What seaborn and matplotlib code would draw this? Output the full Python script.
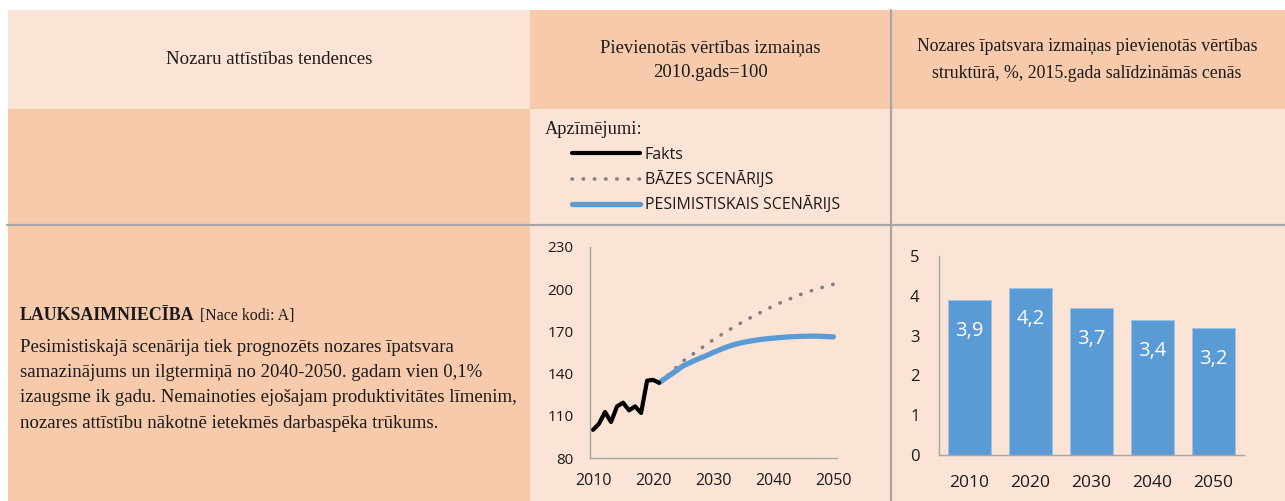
"""
Nozaru attīstības tendences - lauksaimniecība
Line chart of value added (2010=100) and bar chart of sector share
"""

import matplotlib
matplotlib.use('Agg')
import matplotlib.pyplot as plt
from matplotlib.patches import Rectangle
from matplotlib.lines import Line2D
import seaborn as sns

# ---- data ----
fact_years = list(range(2010, 2022))
fact_values = [100, 104.4, 112.7, 105.6, 116.7, 119.3, 113.9, 116.7, 112, 135, 135.5, 133.5]

scen_years = list(range(2021, 2051))
base_values = [133.5, 137, 141, 145, 149, 152, 155, 158, 161, 164,
               166.7, 169.3, 172, 174.5, 177, 179.3, 181.5, 183.7, 185.9, 188,
               190, 191.8, 193.6, 195.3, 197, 198.4, 199.8, 201.1, 202.3, 203.5]
pessim_values = [133.5, 136.5, 139.5, 142.5, 145.5, 147.5, 149.5, 151.3, 153, 155,
                 156.8, 158.5, 160, 161.2, 162.2, 163, 163.7, 164.3, 164.8, 165.2,
                 165.6, 165.9, 166.2, 166.4, 166.5, 166.6, 166.6, 166.5, 166.3, 166.1]

line_yticks = [80, 110, 140, 170, 200, 230]
line_xticks = [2010, 2020, 2030, 2040, 2050]

share_years = ['2010', '2020', '2030', '2040', '2050']
share_values = [3.9, 4.2, 3.7, 3.4, 3.2]
share_labels = ['3,9', '4,2', '3,7', '3,4', '3,2']

series_names = ['Fakts', 'BĀZES SCENĀRIJS', 'PESIMISTISKAIS SCENĀRIJS']

header_texts = ['Nozaru attīstības tendences',
                'Pievienotās vērtības izmaiņas\n2010.gads=100',
                'Nozares īpatsvara izmaiņas pievienotās vērtības\nstruktūrā, %, 2015.gada salīdzināmās cenās']
sector_title = 'LAUKSAIMNIECĪBA'
sector_code = '[Nace kodi: A]'
sector_text = ['Pesimistiskajā scenārija tiek prognozēts nozares īpatsvara',
               'samazinājums un ilgtermiņā no 2040-2050. gadam vien 0,1%',
               'izaugsme ik gadu. Nemainoties ejošajam produktivitātes līmenim,',
               'nozares attīstību nākotnē ietekmēs darbaspēka trūkums.']

# ---- style ----
LIGHT = '#FBE3D6'
DARK = '#F7CAAC'
GRID = '#A6A6A6'
BLUE = '#5B9BD5'
DOT = '#7F7F7F'
SERIF = ['Liberation Serif', 'DejaVu Serif']
SANS = ['Open Sans', 'DejaVu Sans']

sns.set_theme(style='white')
plt.rcParams['font.family'] = SANS
plt.rcParams['axes.edgecolor'] = GRID
plt.rcParams['text.color'] = '#1a1a1a'

W, H = 1285, 501
fig = plt.figure(figsize=(W / 100, H / 100), dpi=100)
fig.patch.set_facecolor('white')


def fx(x):
    return x / W


def fy(y):
    return 1 - y / H


def cell(x0, y0, x1, y1, color):
    fig.patches.append(Rectangle((fx(x0), fy(y1)), fx(x1) - fx(x0), fy(y0) - fy(y1),
                                 transform=fig.transFigure, facecolor=color,
                                 edgecolor='none', zorder=-2))


# table background
cell(8, 10, 530, 109, LIGHT)
cell(530, 10, 890, 109, DARK)
cell(890, 10, W, 109, DARK)
cell(8, 109, 530, H, DARK)
cell(530, 109, 890, 225, LIGHT)
cell(890, 109, W, 225, LIGHT)
cell(530, 225, 890, H, LIGHT)
cell(890, 225, W, H, LIGHT)

fig.lines.append(Line2D([fx(890.5), fx(890.5)], [fy(10), fy(H)], transform=fig.transFigure,
                        color=GRID, linewidth=1.6, zorder=-1))
fig.lines.append(Line2D([fx(7), fx(W)], [fy(225), fy(225)], transform=fig.transFigure,
                        color=GRID, linewidth=1.6, zorder=-1))

# header text
fig.text(fx(269), fy(60), header_texts[0], ha='center', va='center', family=SERIF, fontsize=13.6)
fig.text(fx(710), fy(60), header_texts[1], ha='center', va='center', family=SERIF,
         fontsize=13.4, linespacing=1.6)
fig.text(fx(1087), fy(60), header_texts[2], ha='center', va='center', family=SERIF,
         fontsize=12.8, linespacing=1.7)

# sector description
t = fig.text(fx(20), fy(316), sector_title, ha='left', va='center', family=SERIF,
             fontsize=12.9, fontweight='bold')
renderer = fig.canvas.get_renderer()
bb = t.get_window_extent(renderer)
fig.text(bb.x1 / W + fx(5), fy(316), sector_code, ha='left', va='center', family=SERIF,
         fontsize=11.4)
for i, line in enumerate(sector_text):
    fig.text(fx(20), fy(347 + i * 25.4), line, ha='left', va='center', family=SERIF,
             fontsize=13.5)

fig.text(fx(545), fy(130), 'Apzīmējumi:', ha='left', va='center', family=SERIF, fontsize=13.2)

# ---- line chart ----
ax1 = fig.add_axes([fx(590), fy(458), fx(837) - fx(590), fy(247) - fy(458)])
ax1.set_facecolor('none')
sns.lineplot(x=scen_years, y=base_values, ax=ax1, color=DOT, linewidth=2.6,
             linestyle=(0, (0.1, 3.0)), dash_capstyle='round', label=series_names[1])
sns.lineplot(x=scen_years, y=pessim_values, ax=ax1, color=BLUE, linewidth=3.8,
             solid_capstyle='round', label=series_names[2])
sns.lineplot(x=fact_years, y=fact_values, ax=ax1, color='black', linewidth=3.0,
             solid_capstyle='round', label=series_names[0])
ax1.set_xlim(2009.5, 2050.6)
ax1.set_ylim(80, 230)
ax1.set_xticks(line_xticks)
ax1.set_yticks(line_yticks)
ax1.tick_params(axis='x', length=0, pad=11, labelsize=11.5, labelcolor='#1a1a1a')
ax1.tick_params(axis='y', length=0, pad=12, labelsize=11, labelcolor='#1a1a1a')
sns.despine(ax=ax1)
for s in ['left', 'bottom']:
    ax1.spines[s].set_color(GRID)
    ax1.spines[s].set_linewidth(1.0)
ax1.set_xlabel('')
ax1.set_ylabel('')

handles, labels = ax1.get_legend_handles_labels()
order = [labels.index(n) for n in series_names]
ax1.get_legend().remove()
fig.legend([handles[i] for i in order], series_names, loc='upper left',
           bbox_to_anchor=(fx(572), fy(147)), frameon=False, fontsize=11.5,
           handlelength=4.25, handletextpad=0.3, labelspacing=0.52,
           borderaxespad=0, borderpad=0)

# ---- bar chart ----
ax2 = fig.add_axes([fx(939), fy(455.3), fx(1244) - fx(939), fy(255.7) - fy(455.3)])
ax2.set_facecolor('none')
sns.barplot(x=share_years, y=share_values, ax=ax2, color=BLUE, saturation=1,
            width=0.71, edgecolor='#9DC3E6', linewidth=0.6)
ax2.set_ylim(0, 5)
ax2.set_xlim(-0.5, 4.5)
ax2.set_yticks(range(0, 6))
ax2.bar_label(ax2.containers[0], labels=share_labels, label_type='edge', padding=-30,
              color='white', fontsize=14.5)
ax2.tick_params(axis='x', length=0, pad=14, labelsize=12.5, labelcolor='#1a1a1a')
ax2.tick_params(axis='y', length=0, pad=14, labelsize=12, labelcolor='#1a1a1a')
sns.despine(ax=ax2)
for s in ['left', 'bottom']:
    ax2.spines[s].set_color(GRID)
    ax2.spines[s].set_linewidth(1.0)
ax2.set_xlabel('')
ax2.set_ylabel('')

fig.savefig('out.png', dpi=100)
